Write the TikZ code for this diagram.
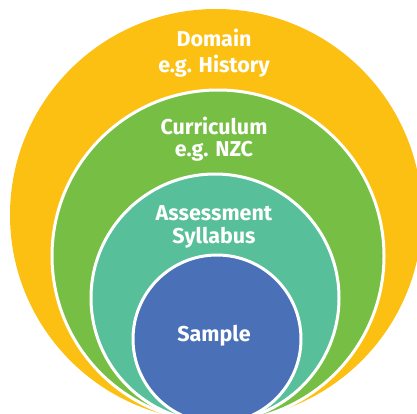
\documentclass[tikz,border=0pt]{standalone}
\usepackage{fontspec}
\setmainfont{Fira Sans}
\definecolor{cyellow}{HTML}{FCC013}
\definecolor{cgreen}{HTML}{76BF44}
\definecolor{cteal}{HTML}{57BF9A}
\definecolor{cblue}{HTML}{4A71B8}
\begin{document}
\begin{tikzpicture}[x=1pt,y=1pt,
  ring/.style={circle, inner sep=0pt, outer sep=0pt, draw=white, line width=3pt},
  lbl/.style={text=white, font=\fontsize{21.5}{26}\selectfont\bfseries, align=center, inner sep=0pt}]
\useasboundingbox (0,0) rectangle (417,-414);
\clip (0,0) rectangle (417,-414);
\node[ring, fill=cyellow, draw=none, minimum size=412pt] (domain) at (216,-215) {};
\node[ring, fill=cgreen, minimum size=332pt] (curr) at (218,-256) {};
\node[ring, fill=cteal, minimum size=248pt] (assess) at (215,-298) {};
\node[ring, fill=cblue, minimum size=168pt] (sample) at (217,-339) {};
\node[lbl] (t1) at (214,-38) {Domain};
\node[lbl] (t2) at (214,-66) {e.g. History};
\node[lbl] (t3) at (214,-126) {Curriculum};
\node[lbl] (t4) at (214,-151) {e.g. NZC};
\node[lbl] (t5) at (214,-213) {Assessment};
\node[lbl] (t6) at (214,-238) {Syllabus};
\node[lbl] (t7) at (214,-336) {Sample};
\end{tikzpicture}
\end{document}
